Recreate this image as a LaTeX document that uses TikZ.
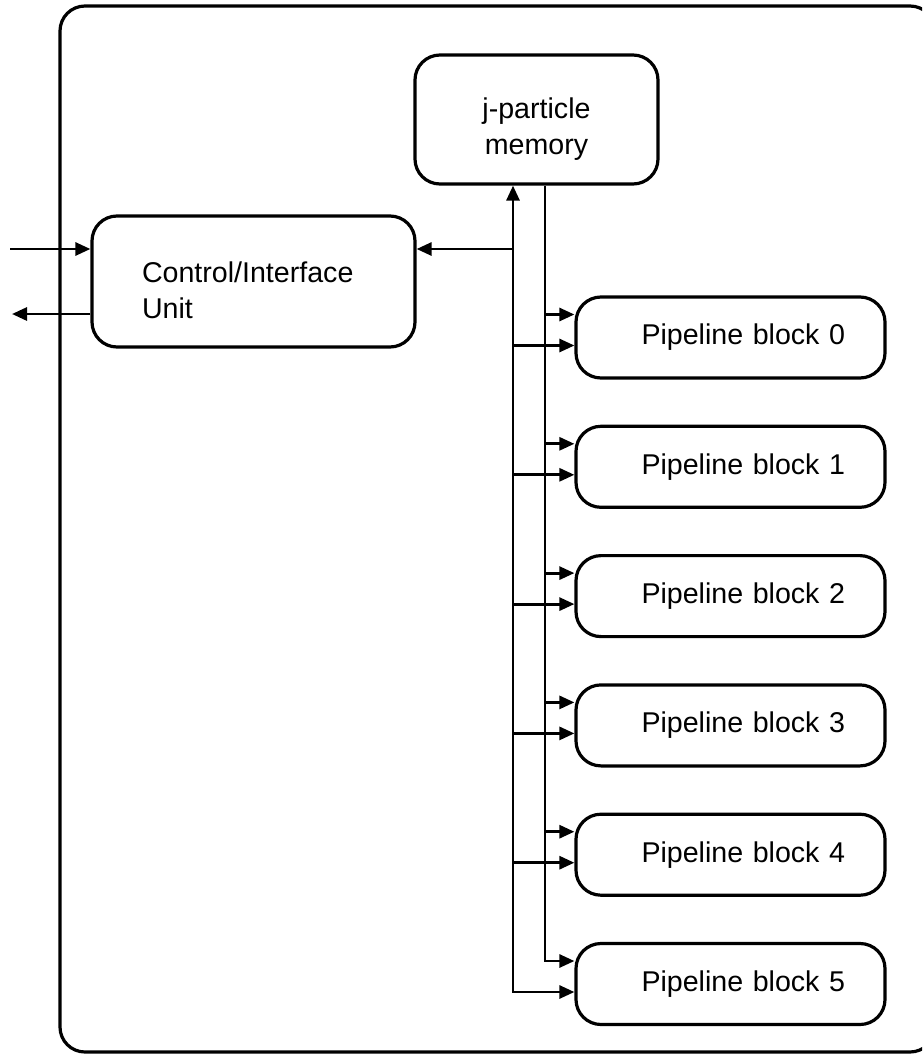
\documentclass[tikz,border=0pt]{standalone}
\usepackage{fontspec}
\setmainfont{Liberation Sans}
\usetikzlibrary{arrows.meta}

\begin{document}
\begin{tikzpicture}[
  x=1pt, y=1pt,
  font=\fontsize{28.6}{36}\selectfont,
  frame/.style={draw, line width=3.2pt, rounded corners=25pt},
  box/.style={draw, line width=3.2pt, rounded corners=25pt, align=center, fill=white, text height=39pt},
  pblock/.style={box, minimum width=309pt, minimum height=81pt, inner xsep=40pt, text width=229pt, align=right, text height=},
  arrow/.style={-{Triangle[length=15pt,width=13pt]}, line width=2.8pt},
  both/.style={{Triangle[length=15pt,width=13pt]}-{Triangle[length=15pt,width=13pt]}, line width=2.8pt}
]
\useasboundingbox (0,0) rectangle (922,-1055);
\clip (0,0) rectangle (922,-1055);

% board outline
\draw[frame] (60,-6) rectangle (935,-1052);

\node[box, minimum width=243pt, minimum height=129pt, text width=200pt] (mem) at (536.5,-119.5)
  {j-particle\\memory};
\node[box, minimum width=323pt, minimum height=131pt, inner xsep=50pt, text width=223pt, align=left] (ctrl) at (253.5,-281.5)
  {Control/Interface\\Unit};

\foreach \i in {0,...,5} {
  \node[pblock] (pb\i) at (730.5,{-337.5-129.3*\i}) {Pipeline block \i};
  \coordinate (up\i) at ([yshift=23pt]pb\i.west);
  \coordinate (lo\i) at ([yshift=-8pt]pb\i.west);
}

% buses
\coordinate (busA) at ([xshift=-23.5pt]mem.south);
\coordinate (busB) at ([xshift=8.5pt]mem.south);
\draw[both] (lo5) -| (busA);
\draw[arrow] (busB) |- (up5);
\foreach \i in {0,...,4} {
  \draw[arrow] (busB |- up\i) -- (up\i);
  \draw[arrow] (busA |- lo\i) -- (lo\i);
}

\coordinate (ctrlr) at ([yshift=32.5pt]ctrl.east);
\draw[arrow] (busA |- ctrlr) -- (ctrlr);

% host side
\coordinate (extin) at (10,-249);
\coordinate (extout) at (12,-314);
\draw[arrow] (extin) -- (extin -| ctrl.west);
\draw[arrow] (extout -| ctrl.west) -- (extout);

\end{tikzpicture}
\end{document}
